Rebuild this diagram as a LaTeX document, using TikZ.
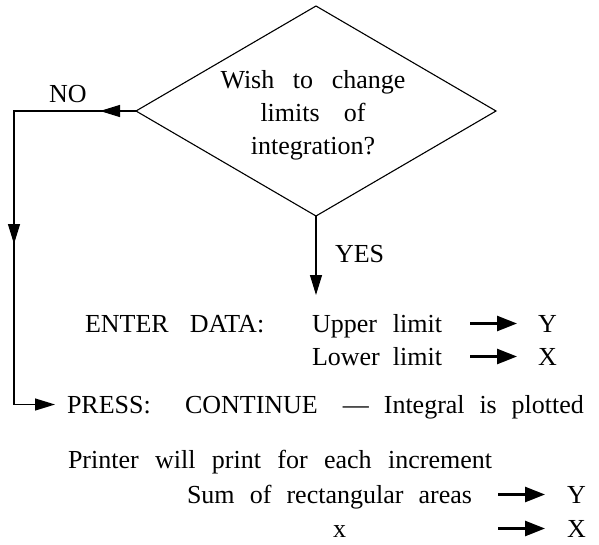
\documentclass[tikz,border=0pt]{standalone}
\usepackage{fontspec}
\setmainfont{Liberation Serif}
\usetikzlibrary{arrows.meta,shapes.geometric,decorations.markings}
\newcommand{\spreadbox}[2]{\makebox[#1][s]{#2}}
\begin{document}
\begin{tikzpicture}[x=1pt,y=-1pt,
  txt/.style={inner sep=0pt, outer sep=0pt, anchor=base west, text height=17pt, text depth=0pt, font=\fontsize{26}{33}\selectfont},
  flow/.style={line width=1.2pt},
  tipend/.style={-{Triangle[length=20pt,width=12pt]}},
  boldarrow/.style={line width=2.6pt, -{Triangle[length=20pt,width=15pt]}},
  midtips/.style={postaction={decorate}, decoration={markings,
     mark=at position 36pt with {\arrow{Triangle[length=20pt,width=12pt]}},
     mark=at position 255pt with {\arrow{Triangle[length=20pt,width=12pt]}}}}
]
\useasboundingbox (0,0) rectangle (599,544);
% decision
\node[draw, diamond, minimum width=360pt, minimum height=210pt, inner sep=0pt, outer sep=0pt, line width=1.1pt] (d) at (316,111) {};
\node[inner sep=0pt, outer sep=0pt, anchor=north, align=center, font=\fontsize{26}{33}\selectfont] (q) at (313,70)
  {\spreadbox{185pt}{Wish to change}\\ \spreadbox{105pt}{limits of}\\ integration?};
\node[txt] (no) at (49,102) {NO};
\node[txt] (yes) at (335,262) {YES};
\coordinate (yesend) at (316,295);
\coordinate (lx) at (14,0);
% texts
\node[txt] (enter) at (85,332) {ENTER\hspace{21pt}DATA:};
\node[txt] (up) at (312,332) {\spreadbox{130pt}{Upper limit}};
\node[txt] (Y1) at (538,332) {Y};
\node[txt] (low) at (312,365) {\spreadbox{130pt}{Lower limit}};
\node[txt] (X1) at (538,365) {X};
\node[txt] (press) at (67,413) {PRESS:};
\node[txt] (cont) at (185,413) {CONTINUE\hspace{25pt}—\hspace{15pt}\spreadbox{200pt}{Integral is plotted}};
\node[txt] (printer) at (68,468) {\spreadbox{424pt}{Printer will print for each increment}};
\node[txt] (sum) at (187,503) {\spreadbox{285pt}{Sum of rectangular areas}};
\node[txt] (Y2) at (567,503) {Y};
\node[txt] (xv) at (333,537) {x};
\node[txt] (X2) at (567,537) {X};
% connectors
\draw[flow, tipend, midtips, shorten >=12pt] (d.west) -- (d.west -| lx) -- (lx |- press.west) -- (press.west);
\draw[flow, tipend] (d.south) -- (d.south |- yesend);
\draw[boldarrow, shorten <=28pt, shorten >=21pt] (up.east) -- (Y1.west);
\draw[boldarrow, shorten <=28pt, shorten >=21pt] (low.east) -- (X1.west);
\draw[boldarrow, shorten <=26pt, shorten >=22pt] (sum.east) -- (Y2.west);
\draw[boldarrow, shorten <=26pt, shorten >=22pt] (sum.east |- X2.west) -- (X2.west);
\end{tikzpicture}
\end{document}
